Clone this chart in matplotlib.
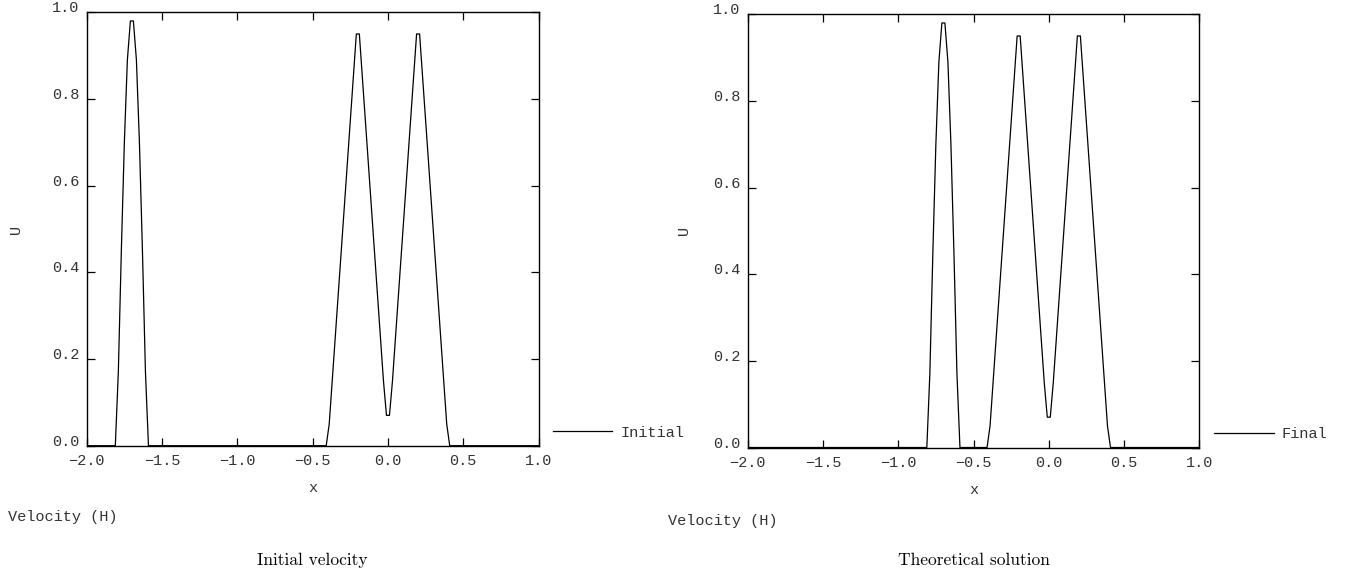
import matplotlib
matplotlib.use("Agg")
import matplotlib.pyplot as plt

# ---- data ----
init_x = [-2.0, -1.81, -1.79, -1.77, -1.75, -1.73, -1.71, -1.69, -1.67, -1.65, -1.63, -1.61, -1.59,
          -0.41, -0.39, -0.37, -0.35, -0.33, -0.31, -0.29, -0.27, -0.25, -0.23, -0.21,
          -0.19, -0.17, -0.15, -0.13, -0.11, -0.09, -0.07, -0.05, -0.03, -0.01,
          0.01, 0.03, 0.05, 0.07, 0.09, 0.11, 0.13, 0.15, 0.17, 0.19,
          0.21, 0.23, 0.25, 0.27, 0.29, 0.31, 0.33, 0.35, 0.37, 0.39, 0.41, 1.0]
init_u = [0.0, 0.0, 0.17, 0.45, 0.70, 0.89, 0.98, 0.98, 0.89, 0.70, 0.45, 0.17, 0.0,
          0.0, 0.05, 0.15, 0.25, 0.35, 0.45, 0.55, 0.65, 0.75, 0.85, 0.95,
          0.95, 0.85, 0.75, 0.65, 0.55, 0.45, 0.35, 0.25, 0.15, 0.07,
          0.07, 0.15, 0.25, 0.35, 0.45, 0.55, 0.65, 0.75, 0.85, 0.95,
          0.95, 0.85, 0.75, 0.65, 0.55, 0.45, 0.35, 0.25, 0.15, 0.05, 0.0, 0.0]

final_x = [-2.0, -0.81, -0.79, -0.77, -0.75, -0.73, -0.71, -0.69, -0.67, -0.65, -0.63, -0.61, -0.59,
           -0.41, -0.39, -0.37, -0.35, -0.33, -0.31, -0.29, -0.27, -0.25, -0.23, -0.21,
           -0.19, -0.17, -0.15, -0.13, -0.11, -0.09, -0.07, -0.05, -0.03, -0.01,
           0.01, 0.03, 0.05, 0.07, 0.09, 0.11, 0.13, 0.15, 0.17, 0.19,
           0.21, 0.23, 0.25, 0.27, 0.29, 0.31, 0.33, 0.35, 0.37, 0.39, 0.41, 1.0]
final_u = [0.0, 0.0, 0.17, 0.45, 0.70, 0.89, 0.98, 0.98, 0.89, 0.70, 0.45, 0.17, 0.0,
           0.0, 0.05, 0.15, 0.25, 0.35, 0.45, 0.55, 0.65, 0.75, 0.85, 0.95,
           0.95, 0.85, 0.75, 0.65, 0.55, 0.45, 0.35, 0.25, 0.15, 0.07,
           0.07, 0.15, 0.25, 0.35, 0.45, 0.55, 0.65, 0.75, 0.85, 0.95,
           0.95, 0.85, 0.75, 0.65, 0.55, 0.45, 0.35, 0.25, 0.15, 0.05, 0.0, 0.0]

x_ticks = [-2.0, -1.5, -1.0, -0.5, 0.0, 0.5, 1.0]
y_ticks = [0.0, 0.2, 0.4, 0.6, 0.8, 1.0]
x_ticklabels = ["\u22122.0", "\u22121.5", "\u22121.0", "\u22120.5", "0.0", "0.5", "1.0"]
y_ticklabels = ["0.0", "0.2", "0.4", "0.6", "0.8", "1.0"]

panels = [
    dict(x=init_x, u=init_u, label="Initial", title="Initial velocity"),
    dict(x=final_x, u=final_u, label="Final", title="Theoretical solution"),
]

MONO = "Liberation Mono"
FS = 11
TXT = "#333333"

W, H = 1352, 577
fig = plt.figure(figsize=(W / 100, H / 100), dpi=100)

# axes boxes in pixels: (left, top, right, bottom)
boxes = [(86.7, 12.3, 538.6, 445.7), (747.7, 14.3, 1199.3, 447.5)]

for i, (p, b) in enumerate(zip(panels, boxes)):
    l, t, r, btm = b
    ax = fig.add_axes([l / W, 1 - btm / H, (r - l) / W, (btm - t) / H])
    ax.plot(p["x"], p["u"], color="black", lw=0.9, label=p["label"])
    ax.set_xlim(-2.0, 1.0)
    ax.set_ylim(0.0, 1.0)
    ax.set_xticks(x_ticks)
    ax.set_xticklabels(x_ticklabels, fontfamily=MONO, fontsize=FS)
    ax.set_yticks(y_ticks)
    ax.set_yticklabels(y_ticklabels, fontfamily=MONO, fontsize=FS)
    for lab in ax.get_yticklabels():
        lab.set_verticalalignment("baseline")
    ax.tick_params(direction="in", top=True, right=True, length=6, width=0.9,
                   color="black", labelcolor=TXT)
    ax.tick_params(axis="x", pad=6.0)
    ax.tick_params(axis="y", pad=5)
    for s in ax.spines.values():
        s.set_linewidth(1.0)
        s.set_color("black")
    ax.set_xlabel("x", fontfamily=MONO, fontsize=FS, color=TXT)
    ax.xaxis.set_label_coords(0.5, -(481 + (2 if i else 0) - btm) / (btm - t))
    ax.set_ylabel("U", fontfamily=MONO, fontsize=FS, color=TXT)
    ax.yaxis.set_label_coords((23 + (0 if i == 0 else 668) - l) / (r - l), 0.5)

    leg_left = 552.7 if i == 0 else 1214.0
    leg_y = 432.7 if i == 0 else 434.0
    ax.legend(loc="center left",
              bbox_to_anchor=((leg_left - l) / (r - l), (btm - leg_y) / (btm - t)),
              frameon=False, borderpad=0, borderaxespad=0,
              handlelength=3.9, handletextpad=0.55, labelcolor=TXT,
              prop=dict(family=MONO, size=FS))

    vx = 8 if i == 0 else 668
    vy = 517 if i == 0 else 521
    fig.text(vx / W, 1 - vy / H, "Velocity (H)", fontfamily=MONO, fontsize=FS,
             color=TXT, ha="left", va="center")
    cx = (l + r) / 2
    fig.text(cx / W, 1 - 560 / H, p["title"], fontfamily="cmr10", fontsize=12.5,
             ha="center", va="center")

fig.savefig("out.png", dpi=100)
